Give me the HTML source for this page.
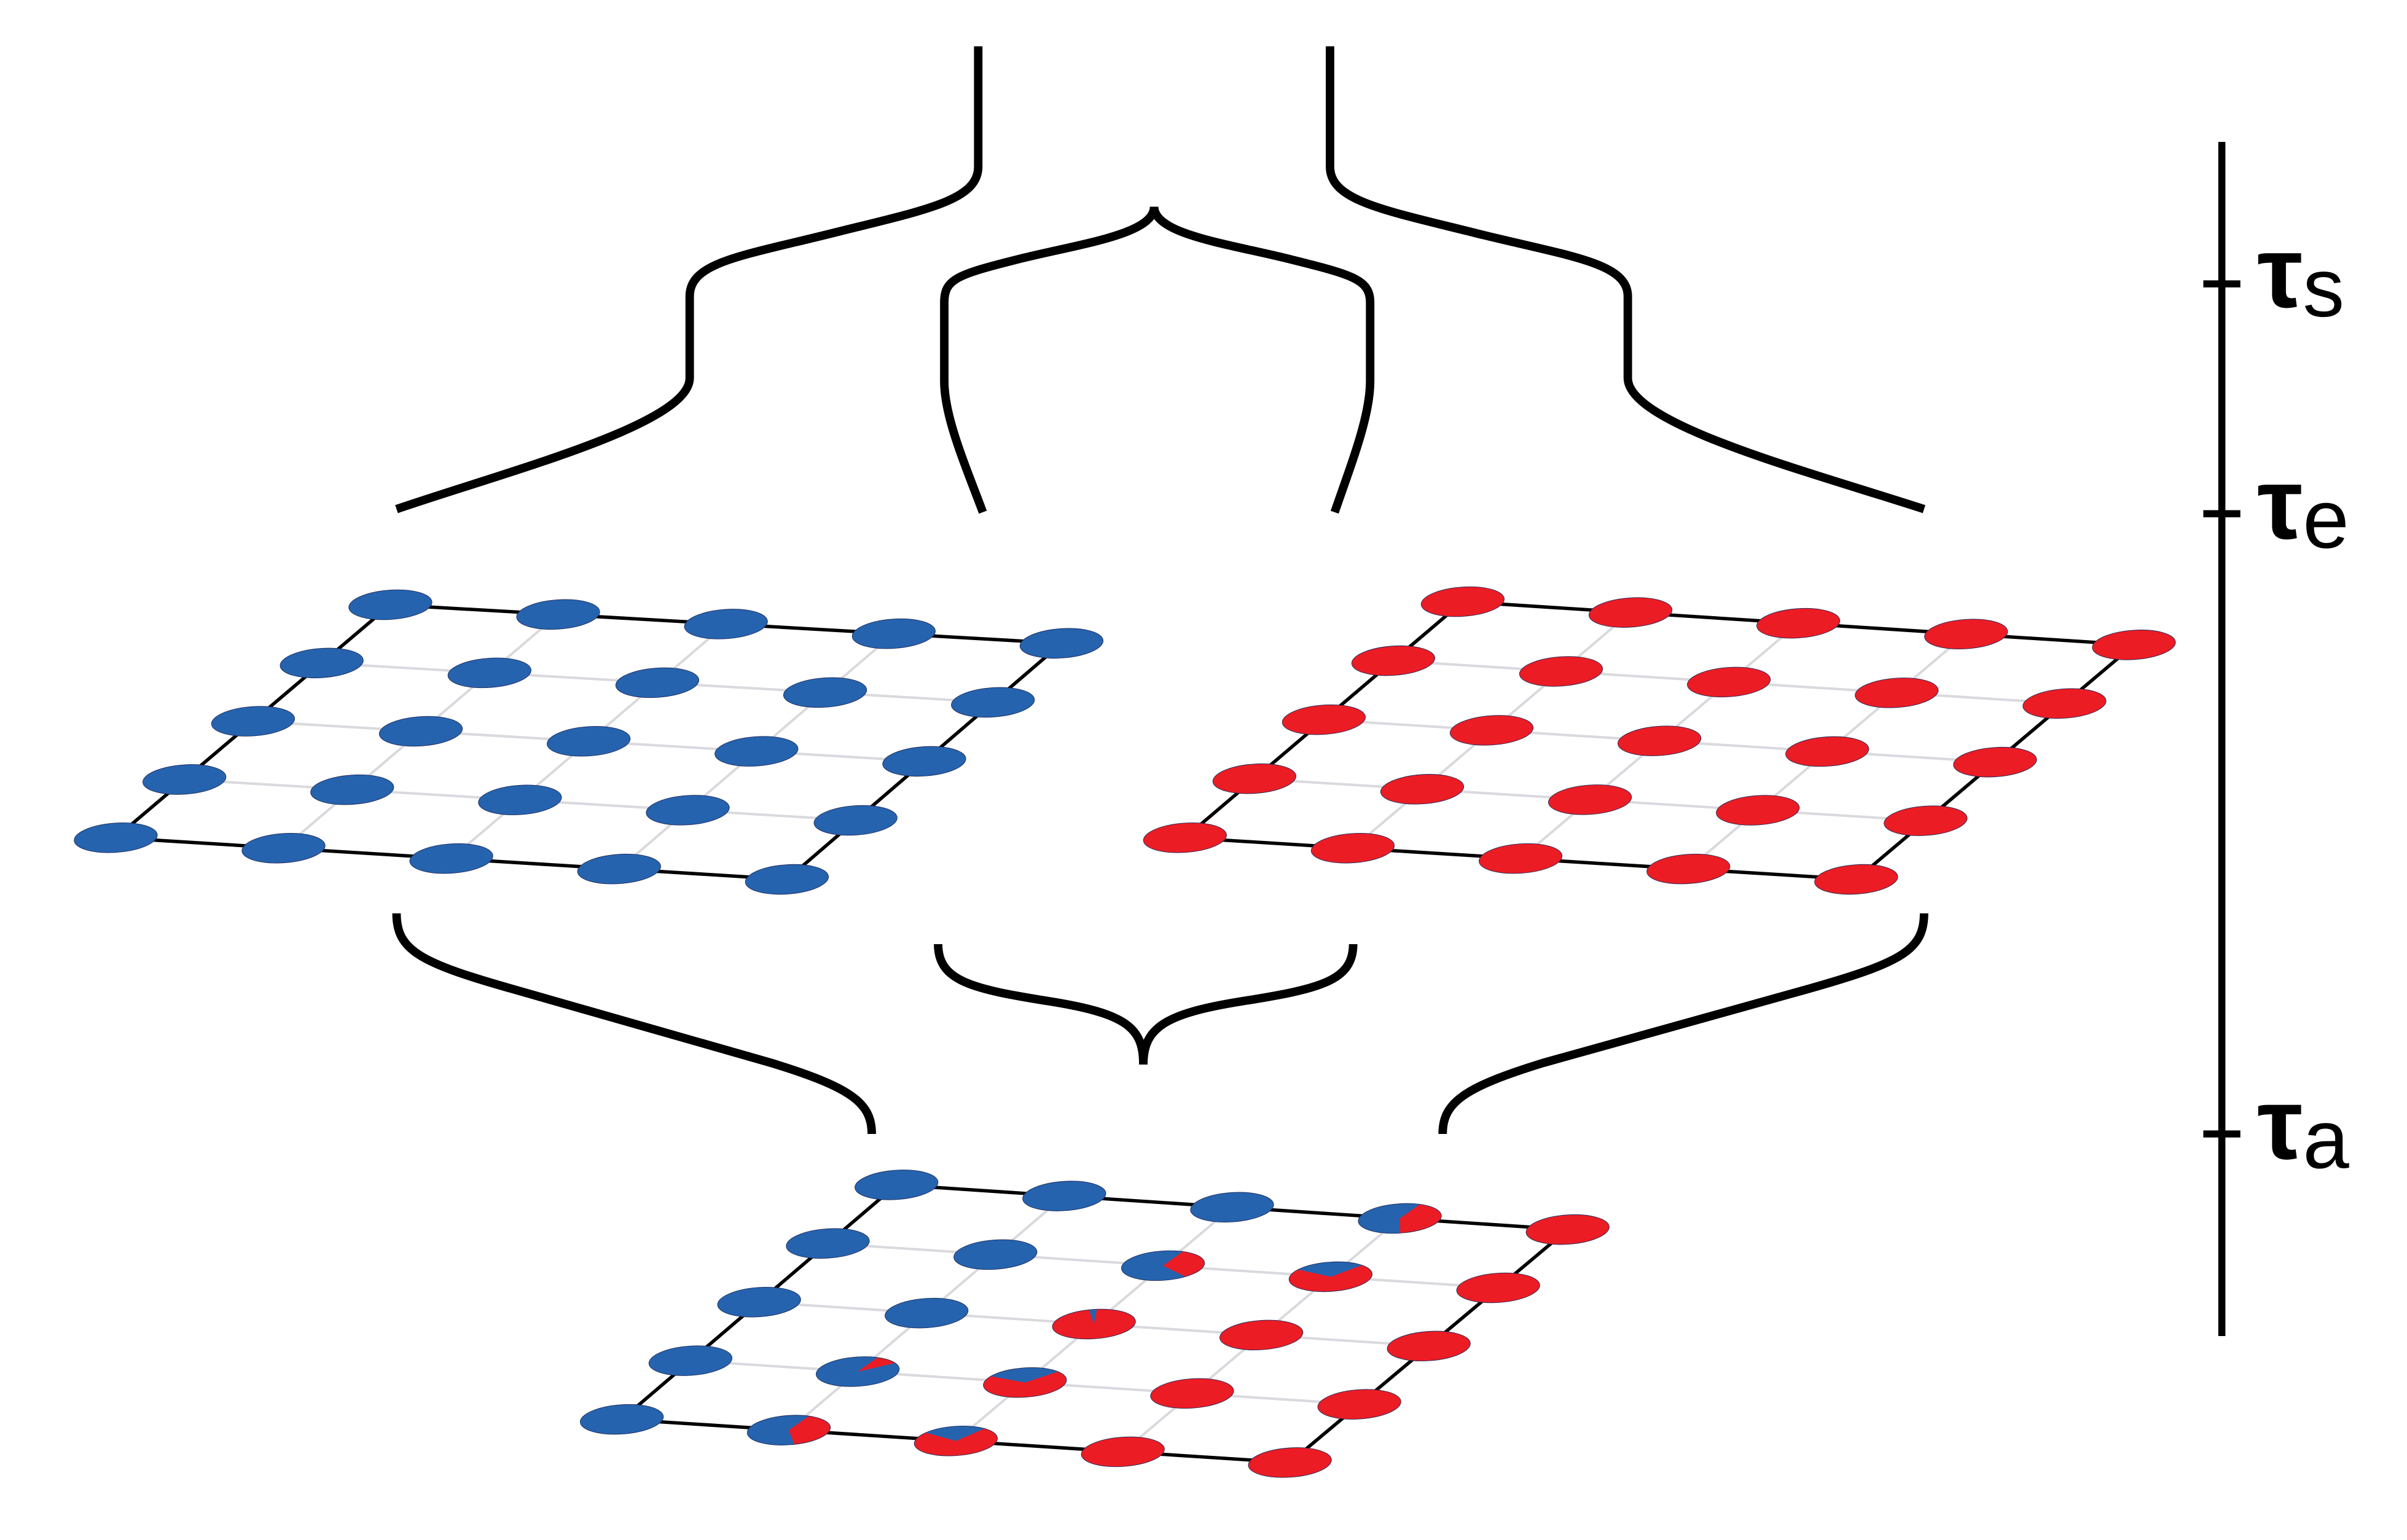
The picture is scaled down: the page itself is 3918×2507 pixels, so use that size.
<!DOCTYPE html>
<html><head><meta charset="utf-8"><style>
html,body{margin:0;padding:0;background:#fff;}
svg{display:block;}
</style></head><body>
<svg id="fig" width="3918" height="2507" viewBox="0 0 1560 998.2" xmlns="http://www.w3.org/2000/svg">
<rect width="1560" height="998.2" fill="#fff"/>
<g fill="none" stroke="#000" stroke-width="5.5">
<path d="M634,30 L634,108 C634,130 600,136 540,151 C480,166 447,170 447,192 L447,245 C447,275 330,305 257,330"/>
<path d="M748,134 C748,152 700,158 660,168 C620,178 612,181 612,196 L612,247 C612,270 625,300 637,332"/>
<path d="M748,134 C748,152 796,158 836,168 C876,178 888,181 888,196 L888,247 C888,270 876,300 865,332"/>
<path d="M862,30 L862,108 C862,130 896,136 956,151 C1016,166 1055,170 1055,192 L1055,245 C1055,275 1170,305 1247,330"/>
<path d="M257,592 C257,616 272,624 332,641 L500,689 C552,705 565,715 565,735"/>
<path d="M1247,592 C1247,616 1232,624 1172,641 L1000,689 C948,705 935,715 935,735"/>
<path d="M608,612 C608,636 630,641 680,649 C730,657 741,666 741,690"/>
<path d="M877,612 C877,636 855,641 805,649 C755,657 741,666 741,690"/>
</g>
<g stroke="#000" stroke-width="4.6">
<line x1="1440" y1="92" x2="1440" y2="866"/>
<line x1="1428" y1="184" x2="1452" y2="184"/>
<line x1="1428" y1="333" x2="1452" y2="333"/>
<line x1="1428" y1="735" x2="1452" y2="735"/>
</g>
<g font-family="'Liberation Sans','DejaVu Sans',sans-serif" fill="#000">
<text x="1463" y="199" font-size="66" font-weight="bold">τ<tspan font-size="54" font-weight="normal" dy="6">s</tspan></text>
<text x="1463" y="349" font-size="66" font-weight="bold">τ<tspan font-size="54" font-weight="normal" dy="6">e</tspan></text>
<text x="1463" y="751" font-size="66" font-weight="bold">τ<tspan font-size="54" font-weight="normal" dy="6">a</tspan></text>
</g>
<g id="grids"></g>
</svg>
<script>
// red fraction of each node (rows top->bottom, cols left->right)
const leftGridRed = [
 [0,0,0,0,0],[0,0,0,0,0],[0,0,0,0,0],[0,0,0,0,0],[0,0,0,0,0]];
const rightGridRed = [
 [1,1,1,1,1],[1,1,1,1,1],[1,1,1,1,1],[1,1,1,1,1],[1,1,1,1,1]];
const bottomGridRed = [
 [0,0,0,0.42,1],
 [0,0,0.33,0.72,1],
 [0,0,0.97,1,1],
 [0,0.1,0.7,1,1],
 [0,0.4,0.75,1,1]];
const gridNames = ['left-grid','right-grid','bottom-grid'];
const gridData = [leftGridRed, rightGridRed, bottomGridRed];
// corners: TL, TR, BL, BR (layout geometry)
const gridCorners = [
 [[253,392],[688,417],[75,543],[510,570]],
 [[948,390],[1383,418],[768,543],[1203,570]],
 [[581,768],[1016,797],[403,920],[836,948]]];
const NS='http://www.w3.org/2000/svg';
const BLUE='#2563ae', RED='#ec1c24', OUT='#1f2a5a';
const root=document.getElementById('grids');
function pos(c,r,cols,rows,k){
  const u=c/(cols-1), v=r/(rows-1);
  const [TL,TR,BL,BR]=k;
  return [ (1-v)*((1-u)*TL[0]+u*TR[0]) + v*((1-u)*BL[0]+u*BR[0]),
           (1-v)*((1-u)*TL[1]+u*TR[1]) + v*((1-u)*BL[1]+u*BR[1]) ];
}
function mk(tag,attrs,parent){const e=document.createElementNS(NS,tag);for(const a in attrs)e.setAttribute(a,attrs[a]);parent.appendChild(e);return e;}
gridData.forEach((data,gi)=>{
  const g=mk('g',{},root);
  
  
  const rows=data.length, cols=data[0].length, k=gridCorners[gi];
  // inner light lines
  for(let i=1;i<rows-1;i++){const a=pos(0,i,cols,rows,k),b=pos(cols-1,i,cols,rows,k);
    const l=mk('line',{x1:a[0],y1:a[1],x2:b[0],y2:b[1],stroke:'#d9d9de','stroke-width':1.6},g);
    
    }
  for(let j=1;j<cols-1;j++){const a=pos(j,0,cols,rows,k),b=pos(j,rows-1,cols,rows,k);
    const l=mk('line',{x1:a[0],y1:a[1],x2:b[0],y2:b[1],stroke:'#d9d9de','stroke-width':1.6},g);
    
    }
  // border
  const p=[pos(0,0,cols,rows,k),pos(cols-1,0,cols,rows,k),pos(cols-1,rows-1,cols,rows,k),pos(0,rows-1,cols,rows,k)];
  const border=mk('polygon',{points:p.map(q=>q.join(',')).join(' '),fill:'none',stroke:'#000','stroke-width':2.2},g);
  
  
  for(let r=0;r<rows;r++)for(let c=0;c<cols;c++){
    const f=data[r][c]; const [x,y]=pos(c,r,cols,rows,k);
    const n=mk('g',{transform:`translate(${x},${y}) rotate(-4) scale(27,9.5)`},g);
    
    
    mk('circle',{cx:0,cy:0,r:1,fill: f>=0.5?RED:BLUE},n);
    if(f>0&&f<1){
      const minor = f>=0.5 ? 1-f : f, col = f>=0.5 ? BLUE : RED;
      // slice starting at top-right going clockwise for red; blue sliver at top
      let a0 = f>=0.5 ? -Math.PI/2 - minor*2*Math.PI*0.5 : -Math.PI/3;
      const a1=a0+minor*2*Math.PI;
      const large=minor>0.5?1:0;
      const d=`M0,0 L${Math.cos(a0)},${Math.sin(a0)} A1,1 0 ${large} 1 ${Math.cos(a1)},${Math.sin(a1)} Z`;
      mk('path',{d:d,fill:col},n);
    }
    mk('circle',{cx:0,cy:0,r:1,fill:'none',stroke:OUT,'stroke-width':0.9,'vector-effect':'non-scaling-stroke'},n);
  }
});
</script>
</body></html>
